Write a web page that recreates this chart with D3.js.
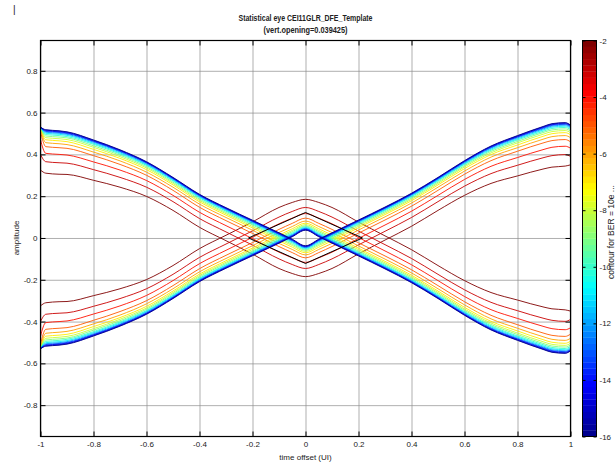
<!DOCTYPE html>
<html>
<head>
<meta charset="utf-8">
<script src="https://cdn.jsdelivr.net/npm/d3@7"></script>
<style>
  body { margin: 0; background: #fff; }
  text { font-family: "Liberation Sans Narrow", "Arial Narrow", "Liberation Sans", Arial, sans-serif; fill: #222; }
</style>
</head>
<body>
<script>
const xs = [-1, -0.98, -0.93, -0.9, -0.8, -0.7, -0.6, -0.5, -0.4, -0.3, -0.2, -0.1, -0.05, 0,
            0.05, 0.1, 0.2, 0.3, 0.4, 0.5, 0.6, 0.7, 0.8, 0.9, 0.93, 0.98, 1];

// lower eye boundary (amplitude) for each BER contour 10e-2 ... 10e-16
const ber2  = [-0.325, -0.310, -0.305, -0.304, -0.276, -0.243, -0.199, -0.132, -0.051, 0.013, 0.077, 0.146, 0.170, 0.185, 0.170, 0.146, 0.076, 0.010, -0.056, -0.132, -0.204, -0.261, -0.297, -0.331, -0.339, -0.344, -0.350];
const ber3  = [-0.400, -0.365, -0.360, -0.358, -0.327, -0.290, -0.243, -0.174, -0.093, -0.029, 0.034, 0.100, 0.127, 0.146, 0.127, 0.100, 0.033, -0.032, -0.098, -0.174, -0.248, -0.308, -0.348, -0.385, -0.394, -0.399, -0.390];
const ber4  = [-0.470, -0.405, -0.400, -0.397, -0.364, -0.325, -0.275, -0.204, -0.123, -0.059, 0.003, 0.068, 0.095, 0.117, 0.095, 0.068, 0.002, -0.062, -0.128, -0.204, -0.280, -0.343, -0.385, -0.424, -0.434, -0.439, -0.430];
const ber5  = [-0.510, -0.437, -0.432, -0.429, -0.394, -0.352, -0.300, -0.228, -0.147, -0.083, -0.022, 0.041, 0.070, 0.095, 0.070, 0.041, -0.023, -0.086, -0.152, -0.228, -0.305, -0.370, -0.415, -0.456, -0.466, -0.471, -0.460];
const ber6  = [-0.525, -0.456, -0.451, -0.447, -0.411, -0.369, -0.315, -0.243, -0.162, -0.098, -0.037, 0.026, 0.055, 0.081, 0.055, 0.026, -0.038, -0.101, -0.167, -0.243, -0.320, -0.387, -0.432, -0.474, -0.485, -0.490, -0.480];
const ber7  = [-0.530, -0.470, -0.465, -0.461, -0.424, -0.381, -0.327, -0.254, -0.173, -0.109, -0.048, 0.014, 0.044, 0.071, 0.044, 0.014, -0.049, -0.112, -0.178, -0.254, -0.332, -0.399, -0.445, -0.488, -0.499, -0.504, -0.494];
const ber8  = [-0.530, -0.480, -0.475, -0.471, -0.434, -0.389, -0.335, -0.261, -0.180, -0.116, -0.055, 0.006, 0.036, 0.064, 0.036, 0.006, -0.056, -0.119, -0.185, -0.261, -0.340, -0.407, -0.455, -0.498, -0.509, -0.514, -0.504];
const ber9  = [-0.530, -0.488, -0.483, -0.479, -0.441, -0.396, -0.341, -0.267, -0.186, -0.122, -0.062, 0.000, 0.030, 0.058, 0.030, 0.000, -0.063, -0.125, -0.191, -0.267, -0.346, -0.414, -0.462, -0.506, -0.517, -0.522, -0.512];
const ber10 = [-0.530, -0.495, -0.490, -0.485, -0.448, -0.402, -0.347, -0.273, -0.192, -0.128, -0.067, -0.006, 0.024, 0.053, 0.024, -0.006, -0.068, -0.131, -0.197, -0.273, -0.352, -0.420, -0.469, -0.512, -0.524, -0.529, -0.519];
const ber11 = [-0.530, -0.501, -0.496, -0.491, -0.453, -0.407, -0.351, -0.277, -0.196, -0.132, -0.072, -0.011, 0.019, 0.049, 0.019, -0.011, -0.073, -0.135, -0.201, -0.277, -0.356, -0.425, -0.474, -0.518, -0.530, -0.535, -0.525];
const ber12 = [-0.530, -0.506, -0.501, -0.496, -0.458, -0.412, -0.355, -0.281, -0.200, -0.136, -0.076, -0.015, 0.015, 0.046, 0.015, -0.015, -0.077, -0.139, -0.205, -0.281, -0.360, -0.430, -0.479, -0.523, -0.535, -0.540, -0.530];
const ber13 = [-0.530, -0.510, -0.505, -0.500, -0.462, -0.415, -0.359, -0.284, -0.203, -0.139, -0.079, -0.018, 0.012, 0.043, 0.012, -0.018, -0.080, -0.142, -0.208, -0.284, -0.364, -0.433, -0.483, -0.527, -0.539, -0.544, -0.534];
const ber14 = [-0.530, -0.513, -0.508, -0.503, -0.464, -0.418, -0.361, -0.286, -0.205, -0.141, -0.081, -0.021, 0.010, 0.041, 0.010, -0.021, -0.082, -0.144, -0.210, -0.286, -0.366, -0.436, -0.485, -0.530, -0.542, -0.547, -0.537];
const ber15 = [-0.530, -0.516, -0.511, -0.506, -0.467, -0.420, -0.363, -0.288, -0.207, -0.143, -0.083, -0.023, 0.008, 0.039, 0.008, -0.023, -0.084, -0.146, -0.212, -0.288, -0.368, -0.438, -0.488, -0.533, -0.545, -0.550, -0.539];
const ber16 = [-0.530, -0.518, -0.513, -0.508, -0.469, -0.422, -0.365, -0.290, -0.209, -0.145, -0.085, -0.025, 0.006, 0.037, 0.006, -0.025, -0.086, -0.148, -0.214, -0.290, -0.370, -0.440, -0.490, -0.535, -0.547, -0.552, -0.540];

const levels = [-2, -3, -4, -5, -6, -7, -8, -9, -10, -11, -12, -13, -14, -15, -16];
const contours = [ber2, ber3, ber4, ber5, ber6, ber7, ber8, ber9, ber10, ber11, ber12, ber13, ber14, ber15, ber16];

// eye mask template (black diamond)
const maskX = [-0.215, 0, 0.215, 0, -0.215];
const maskY = [0, 0.122, 0, -0.122, 0];

const xTicks = [-1, -0.8, -0.6, -0.4, -0.2, 0, 0.2, 0.4, 0.6, 0.8, 1];
const yTicks = [-0.8, -0.6, -0.4, -0.2, 0, 0.2, 0.4, 0.6, 0.8];
const cbTicks = [-16, -14, -12, -10, -8, -6, -4, -2];

const title1 = "Statistical eye CEI11GLR_DFE_Template";
const title2 = "(vert.opening=0.039425)";

const W = 616, H = 463;
const pL = 40.5, pR = 570.5, pT = 40.5, pB = 436.5;

const svg = d3.select("body").append("svg")
  .attr("width", W).attr("height", H);

const x = d3.scaleLinear().domain([-1, 1]).range([pL, pR]);
const y = d3.scaleLinear().domain([-0.95, 0.945]).range([pB, pT]);

// jet colour map
const jet = d3.scaleLinear()
  .domain([0, 0.125, 0.375, 0.625, 0.875, 1])
  .range(["#00008f", "#0000ff", "#00ffff", "#ffff00", "#ff0000", "#800000"]);
const cLevel = d3.scaleLinear().domain([-16, -2]).range([0, 1]);

const fmt = d => String(d);

// Grid
svg.append("g")
  .attr("transform", `translate(0,${pB})`)
  .call(d3.axisBottom(x).tickValues(xTicks).tickSize(-(pB - pT)).tickFormat(""))
  .call(g => g.select(".domain").remove())
  .call(g => g.selectAll("line").attr("stroke", "#8c8c8c").attr("stroke-width", 0.7));
svg.append("g")
  .attr("transform", `translate(${pL},0)`)
  .call(d3.axisLeft(y).tickValues(yTicks).tickSize(-(pR - pL)).tickFormat(""))
  .call(g => g.select(".domain").remove())
  .call(g => g.selectAll("line").attr("stroke", "#8c8c8c").attr("stroke-width", 0.7));

// Contours
svg.append("clipPath").attr("id", "plot")
  .append("rect").attr("x", pL).attr("y", pT).attr("width", pR - pL).attr("height", pB - pT);

const line = d3.line()
  .x(d => x(d[0]))
  .y(d => y(d[1]))
  .curve(d3.curveMonotoneX);

const cg = svg.append("g").attr("clip-path", "url(#plot)");
contours.forEach((arr, i) => {
  const lower = xs.map((v, j) => [v, arr[j]]);
  // the upper boundary is the mirror image of the lower one
  const upper = xs.map((v, j) => [v, -arr[j]]);
  const col = jet(cLevel(levels[i]));
  [lower, upper].forEach(pts => {
    cg.append("path")
      .datum(pts)
      .attr("d", line)
      .attr("fill", "none")
      .attr("stroke", col)
      .attr("stroke-width", 0.9);
  });
});

// Eye mask
cg.append("path")
  .datum(maskX.map((v, i) => [v, maskY[i]]))
  .attr("d", d3.line().x(d => x(d[0])).y(d => y(d[1])))
  .attr("fill", "none")
  .attr("stroke", "#000")
  .attr("stroke-width", 1);

// Axes with inward ticks
const styleAxis = g => {
  g.select(".domain").remove();
  g.selectAll("line").attr("stroke", "#000");
  g.selectAll("text").style("font-size", "8px").attr("fill", "#222");
};
svg.append("g").attr("transform", `translate(0,${pB})`)
  .call(d3.axisBottom(x).tickValues(xTicks).tickSize(-5).tickPadding(5).tickFormat(fmt))
  .call(styleAxis);
svg.append("g").attr("transform", `translate(0,${pT})`)
  .call(d3.axisTop(x).tickValues(xTicks).tickSize(-5).tickFormat(""))
  .call(styleAxis);
svg.append("g").attr("transform", `translate(${pL},0)`)
  .call(d3.axisLeft(y).tickValues(yTicks).tickSize(-5).tickPadding(3).tickFormat(fmt))
  .call(styleAxis);
svg.append("g").attr("transform", `translate(${pR},0)`)
  .call(d3.axisRight(y).tickValues(yTicks).tickSize(-5).tickFormat(""))
  .call(styleAxis);

svg.append("rect")
  .attr("x", pL).attr("y", pT).attr("width", pR - pL).attr("height", pB - pT)
  .attr("fill", "none").attr("stroke", "#000").attr("stroke-width", 1.2);

// Colorbar
const cbL = 582.5, cbR = 596.5;
const cy = d3.scaleLinear().domain([-16, -2]).range([pB, pT]);
const nCol = 64;
const bandH = (pB - pT) / nCol;
svg.append("g").selectAll("rect")
  .data(d3.range(nCol))
  .join("rect")
  .attr("x", cbL).attr("width", cbR - cbL)
  .attr("y", i => pB - (i + 1) * bandH)
  .attr("height", bandH + 0.3)
  .attr("fill", i => jet(i / (nCol - 1)));
svg.append("g").attr("transform", `translate(${cbR},0)`)
  .call(d3.axisRight(cy).tickValues(cbTicks).tickSize(-3).tickPadding(3).tickFormat(fmt))
  .call(styleAxis);
svg.append("g").attr("transform", `translate(${cbL},0)`)
  .call(d3.axisLeft(cy).tickValues(cbTicks).tickSize(-3).tickFormat(""))
  .call(styleAxis);
svg.append("rect")
  .attr("x", cbL).attr("y", pT).attr("width", cbR - cbL).attr("height", pB - pT)
  .attr("fill", "none").attr("stroke", "#000").attr("stroke-width", 1);

// Texts
svg.append("text").attr("x", 305.5).attr("y", 21)
  .attr("text-anchor", "middle").style("font-size", "8.5px").style("font-weight", "bold")
  .attr("textLength", 134).attr("lengthAdjust", "spacingAndGlyphs")
  .text(title1);
svg.append("text").attr("x", 305.5).attr("y", 33)
  .attr("text-anchor", "middle").style("font-size", "8.5px").style("font-weight", "bold")
  .attr("textLength", 84).attr("lengthAdjust", "spacingAndGlyphs")
  .text(title2);

svg.append("text").attr("x", (pL + pR) / 2).attr("y", 460)
  .attr("text-anchor", "middle").style("font-size", "8px")
  .text("time offset (UI)");

svg.append("text")
  .attr("transform", `translate(19,238) rotate(-90)`)
  .attr("text-anchor", "middle").style("font-size", "8px")
  .text("amplitude");

svg.append("text")
  .attr("transform", `translate(614,232) rotate(-90)`)
  .attr("text-anchor", "middle").style("font-size", "8.5px")
  .text("contour for BER = 10e ...");

svg.append("text").attr("x", 13).attr("y", 13).style("font-size", "10px").attr("fill", "#333").text("|");
</script>
</body>
</html>
